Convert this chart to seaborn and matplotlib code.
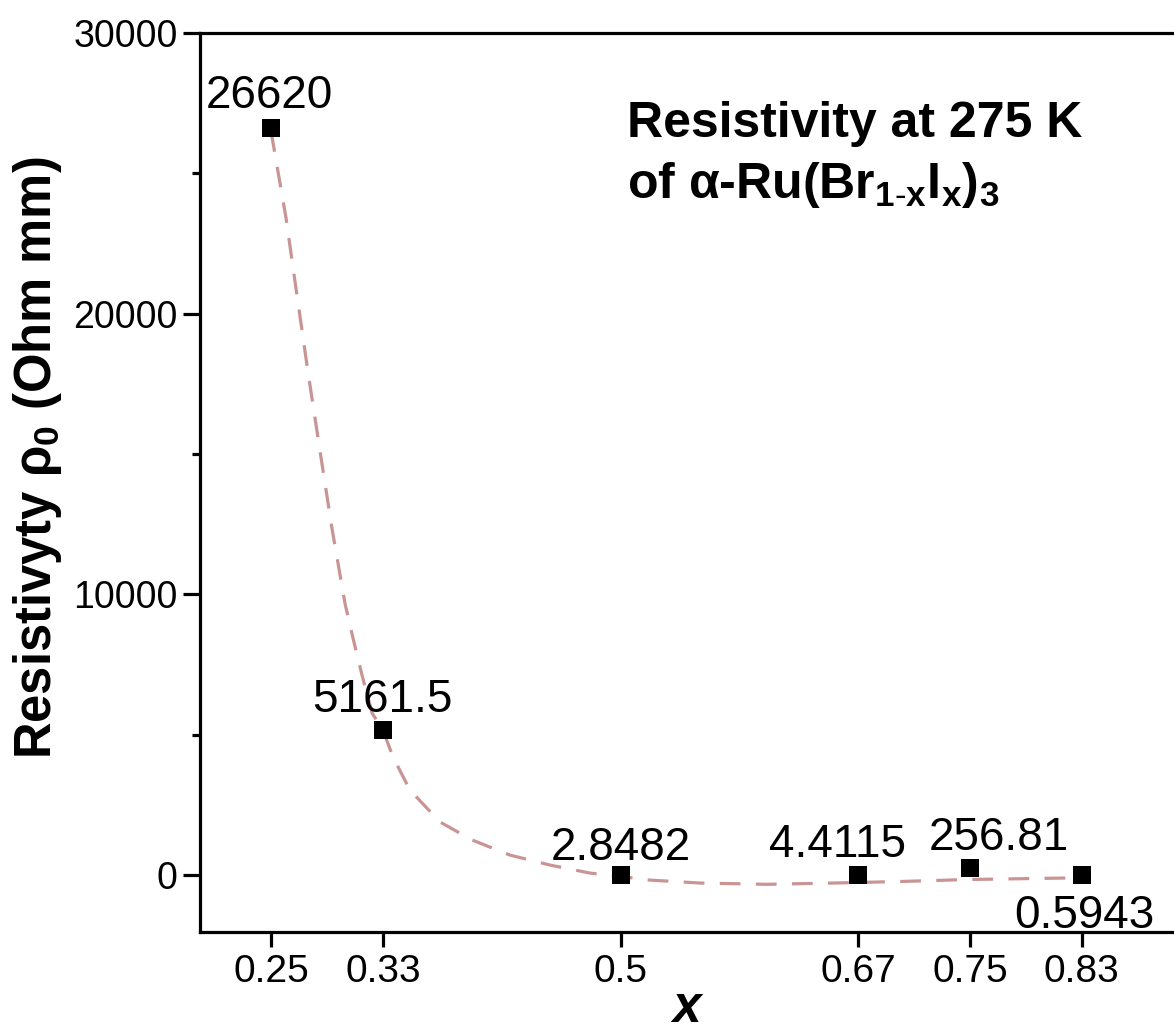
import numpy as np
import pandas as pd
import matplotlib
matplotlib.use("Agg")
import matplotlib.pyplot as plt
from matplotlib.ticker import MultipleLocator
import seaborn as sns

# ---- data ----
x_vals = [0.25, 0.33, 0.50, 0.67, 0.75, 0.83]
rho_vals = [26620, 5161.5, 2.8482, 4.4115, 256.81, 0.5943]
point_labels = ["26620", "5161.5", "2.8482", "4.4115", "256.81", "0.5943"]
x_tick_labels = ["0.25", "0.33", "0.5", "0.67", "0.75", "0.83"]
y_ticks = [0, 10000, 20000, 30000]

# fitted curve
fit_x = [0.250, 0.2607, 0.2686, 0.2765, 0.2851, 0.2936, 0.3029, 0.3087, 0.3151,
         0.3223, 0.3301, 0.3373, 0.3494, 0.3709, 0.3938, 0.421, 0.4496, 0.4782,
         0.500, 0.521, 0.557, 0.605, 0.652, 0.700, 0.748, 0.813, 0.830]
fit_y = [26500, 23420, 20640, 17900, 15090, 12350, 9680, 8430, 7120,
         5770, 5160, 4200, 3025, 1890, 1250, 710, 355, 70,
         -50, -180, -285, -330, -285, -230, -160, -110, -100]

# label offsets in points (dx, dy) and vertical alignment
label_offsets = [(-1.5, 14), (0, 13), (0, 11), (-15, 13), (21, 13), (1.5, -14)]
label_va = ["baseline", "baseline", "baseline", "baseline", "baseline", "top"]

sns.set_theme(style="ticks")
plt.rcParams["font.family"] = ["Liberation Sans", "DejaVu Sans"]
plt.rcParams["text.color"] = "black"
plt.rcParams["axes.labelcolor"] = "black"
plt.rcParams["xtick.color"] = "black"
plt.rcParams["ytick.color"] = "black"
plt.rcParams["mathtext.fontset"] = "custom"
plt.rcParams["mathtext.rm"] = "Liberation Sans"
plt.rcParams["mathtext.it"] = "Liberation Sans:italic"
plt.rcParams["mathtext.bf"] = "Liberation Sans:bold"
plt.rcParams["mathtext.default"] = "regular"

fig = plt.figure(figsize=(11.74, 10.36), dpi=100)
ax = fig.add_axes([200 / 1174, 1 - 932 / 1036, 1 - 200 / 1174, (932 - 33) / 1036])

df_fit = pd.DataFrame({"x": fit_x, "y": fit_y})
sns.lineplot(data=df_fit, x="x", y="y", ax=ax, sort=False, estimator=None,
             color="#c99494", linewidth=2.3, dashes=False, zorder=2)
ax.lines[-1].set_dashes((6.5, 4.8))

df = pd.DataFrame({"x": x_vals, "rho": rho_vals})
sns.scatterplot(data=df, x="x", y="rho", ax=ax, marker="s", s=175,
                color="black", edgecolor="black", linewidth=0, zorder=3)

for xv, yv, lab, off, va in zip(x_vals, rho_vals, point_labels, label_offsets, label_va):
    ax.annotate(lab, (xv, yv), xytext=off, textcoords="offset points",
                ha="center", va=va, fontsize=33, color="black")

ax.set_xlim(0.1992, 0.8959)
ax.set_ylim(-2029, 30000)
ax.set_xticks(x_vals)
ax.set_xticklabels(x_tick_labels)
ax.set_yticks(y_ticks)
ax.yaxis.set_minor_locator(MultipleLocator(5000))

for s in ["left", "top", "bottom"]:
    ax.spines[s].set_linewidth(2.3)
    ax.spines[s].set_color("black")
ax.spines["right"].set_visible(False)

ax.tick_params(axis="y", which="major", length=12, width=2.3, labelsize=27,
               pad=4, colors="black", direction="out")
ax.tick_params(axis="y", which="minor", length=5.5, width=2.3, direction="out")
ax.tick_params(axis="x", which="major", length=11, width=2.3, labelsize=28,
               pad=5, colors="black", direction="out")

ax.set_xlabel("x", fontsize=37, fontweight="bold", fontstyle="italic")
ax.xaxis.set_label_coords(0.5, -0.058)
ax.set_ylabel("Resistivyty ρ$_0$ (Ohm mm)", fontsize=36.5, fontweight="bold")
ax.yaxis.set_label_coords(-0.140, 0.528)

ax.text(627 / 1174, 1 - 198 / 1036, "Resistivity at 275 K\nof α-Ru(Br$_{1\\text{-}x}$I$_x$)$_3$",
        transform=fig.transFigure, fontsize=36, fontweight="bold", color="black",
        ha="left", va="baseline", linespacing=1.33)

ax.set_facecolor("white")
fig.patch.set_facecolor("white")
fig.savefig("out.png", dpi=100)
